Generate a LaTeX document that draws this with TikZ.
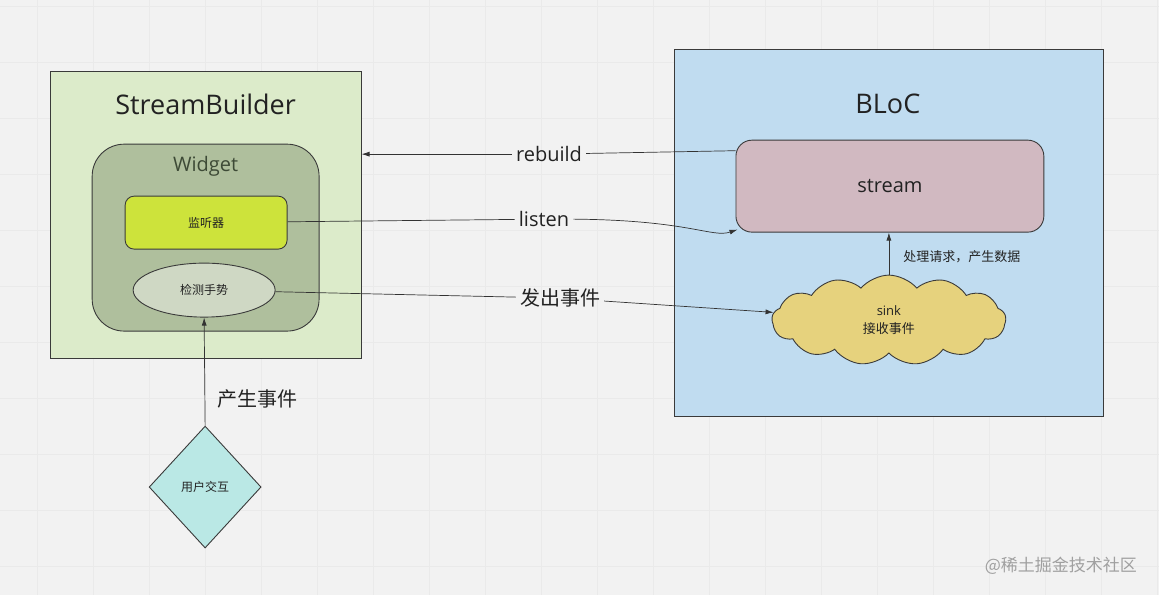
\documentclass[tikz,border=0pt]{standalone}
\usepackage{fontspec}
\setmainfont{Open Sans}
\newfontfamily\cjk{Noto Sans CJK SC}
\usetikzlibrary{shapes.geometric,shapes.symbols,arrows.meta}

\definecolor{bgcol}{HTML}{F2F2F2}
\definecolor{gridcol}{HTML}{EAEAEA}
\definecolor{edgecol}{HTML}{3A3A3A}
\definecolor{linecol}{HTML}{333333}
\definecolor{textcol}{HTML}{222222}
\definecolor{sbcol}{HTML}{DCEBCA}
\definecolor{widgetcol}{HTML}{AFBF9D}
\definecolor{widgettext}{HTML}{3D4A36}
\definecolor{listencol}{HTML}{CDE33B}
\definecolor{gesturecol}{HTML}{CFD8C4}
\definecolor{bloccol}{HTML}{C0DCF0}
\definecolor{streamcol}{HTML}{D1B9C1}
\definecolor{sinkcol}{HTML}{E6D27D}
\definecolor{usercol}{HTML}{BAE8E5}
\definecolor{markcol}{HTML}{A0A0A0}

\begin{document}
\begin{tikzpicture}[x=1pt, y=-1pt]

% Define styles
\tikzstyle{box} = [draw=edgecol, line width=0.9pt, rectangle, inner sep=0pt]
\tikzstyle{title} = [font=\fontsize{27}{32}\selectfont, text=textcol]
\tikzstyle{lbl} = [inner sep=4pt, font=\fontsize{20}{24}\selectfont, text=textcol]
\tikzstyle{cjklbl} = [inner sep=4pt, font=\cjk\fontsize{20}{24}\selectfont, text=textcol]
\tikzstyle{small} = [font=\cjk\fontsize{12}{14}\selectfont, text=textcol]
\tikzstyle{plain} = [line width=0.7pt, draw=linecol]
\tikzstyle{line} = [plain, -{Latex[length=8pt,width=5pt]}]

% Background and grid
\fill[bgcol] (0,0) rectangle (1159,595);
\foreach \gx in {37,93,...,1159} \draw[gridcol] (\gx,0) -- (\gx,595);
\foreach \gy in {6,62,...,595} \draw[gridcol] (0,\gy) -- (1159,\gy);
\useasboundingbox (0,0) rectangle (1159,595);

% StreamBuilder side
\node[box, fill=sbcol, minimum width=311pt, minimum height=287pt] (sb) at (205.5,214.5) {};
\node[title] (sbtitle) at (205.5,104) {StreamBuilder};
\node[box, fill=widgetcol, rounded corners=32pt, minimum width=227pt, minimum height=187pt] (widget) at (205.5,237.5) {};
\node[font=\fontsize{20}{24}\selectfont, text=widgettext] (widgettitle) at (205.5,166) {Widget};
\node[box, fill=listencol, rounded corners=9pt, minimum width=162pt, minimum height=53pt, small] (listener) at (206,222.5) {监听器};
\node[draw=edgecol, line width=0.9pt, ellipse, inner sep=0pt, fill=gesturecol, minimum width=142pt, minimum height=54pt, small] (gesture) at (204,290) {检测手势};

% BLoC side
\node[box, fill=bloccol, minimum width=430pt, minimum height=367pt] (bloc) at (889,232.5) {};
\node[title] (bloctitle) at (888,104) {BLoC};
\node[box, fill=streamcol, rounded corners=16pt, minimum width=308pt, minimum height=92pt, font=\fontsize{20}{24}\selectfont, text=textcol] (stream) at (890,186) {stream};
\node[draw=edgecol, line width=0.9pt, cloud, cloud puffs=13, cloud puff arc=100, aspect=2.7, inner sep=0pt, fill=sinkcol, minimum width=234pt, minimum height=90pt, align=center, font=\fontsize{13}{18}\selectfont, text=textcol] (sink) at (889,320) {sink\\{\cjk 接收事件}};

% User
\node[draw=edgecol, line width=0.9pt, diamond, inner sep=0pt, aspect=0.92, fill=usercol, minimum width=112pt, minimum height=122pt, small] (user) at (205,487) {用户交互};

% Labels
\node[lbl] (rebuildlbl) at (549,154) {rebuild};
\node[lbl] (listenlbl) at (544,219) {listen};
\node[cjklbl] (emitlbl) at (560,298) {发出事件};
\node[cjklbl] (producelbl) at (257,399) {产生事件};
\node[font=\cjk\fontsize{13}{16}\selectfont, text=textcol] (handlelbl) at (962,257) {处理请求，产生数据};
\node[font=\cjk\fontsize{17}{20}\selectfont, text=markcol] (mark) at (1061,566) {@稀土掘金技术社区};

% Arrows
\draw[plain] ([yshift=-11pt]stream.north west) -- (rebuildlbl);
\draw[line] (rebuildlbl) -- (rebuildlbl -| sb.east);
\draw[plain] (listener) -- (listenlbl);
\draw[line] (listenlbl.east) .. controls (690,220) and (712,238) .. ([xshift=2pt, yshift=3pt]stream.south west);
\draw[plain] (gesture) -- (emitlbl);
\draw[line] (emitlbl) -- (sink);
\draw[line] (user.north) -- (gesture.south);
\draw[line] (sink.north) -- (sink.north |- stream.south);

\end{tikzpicture}
\end{document}
